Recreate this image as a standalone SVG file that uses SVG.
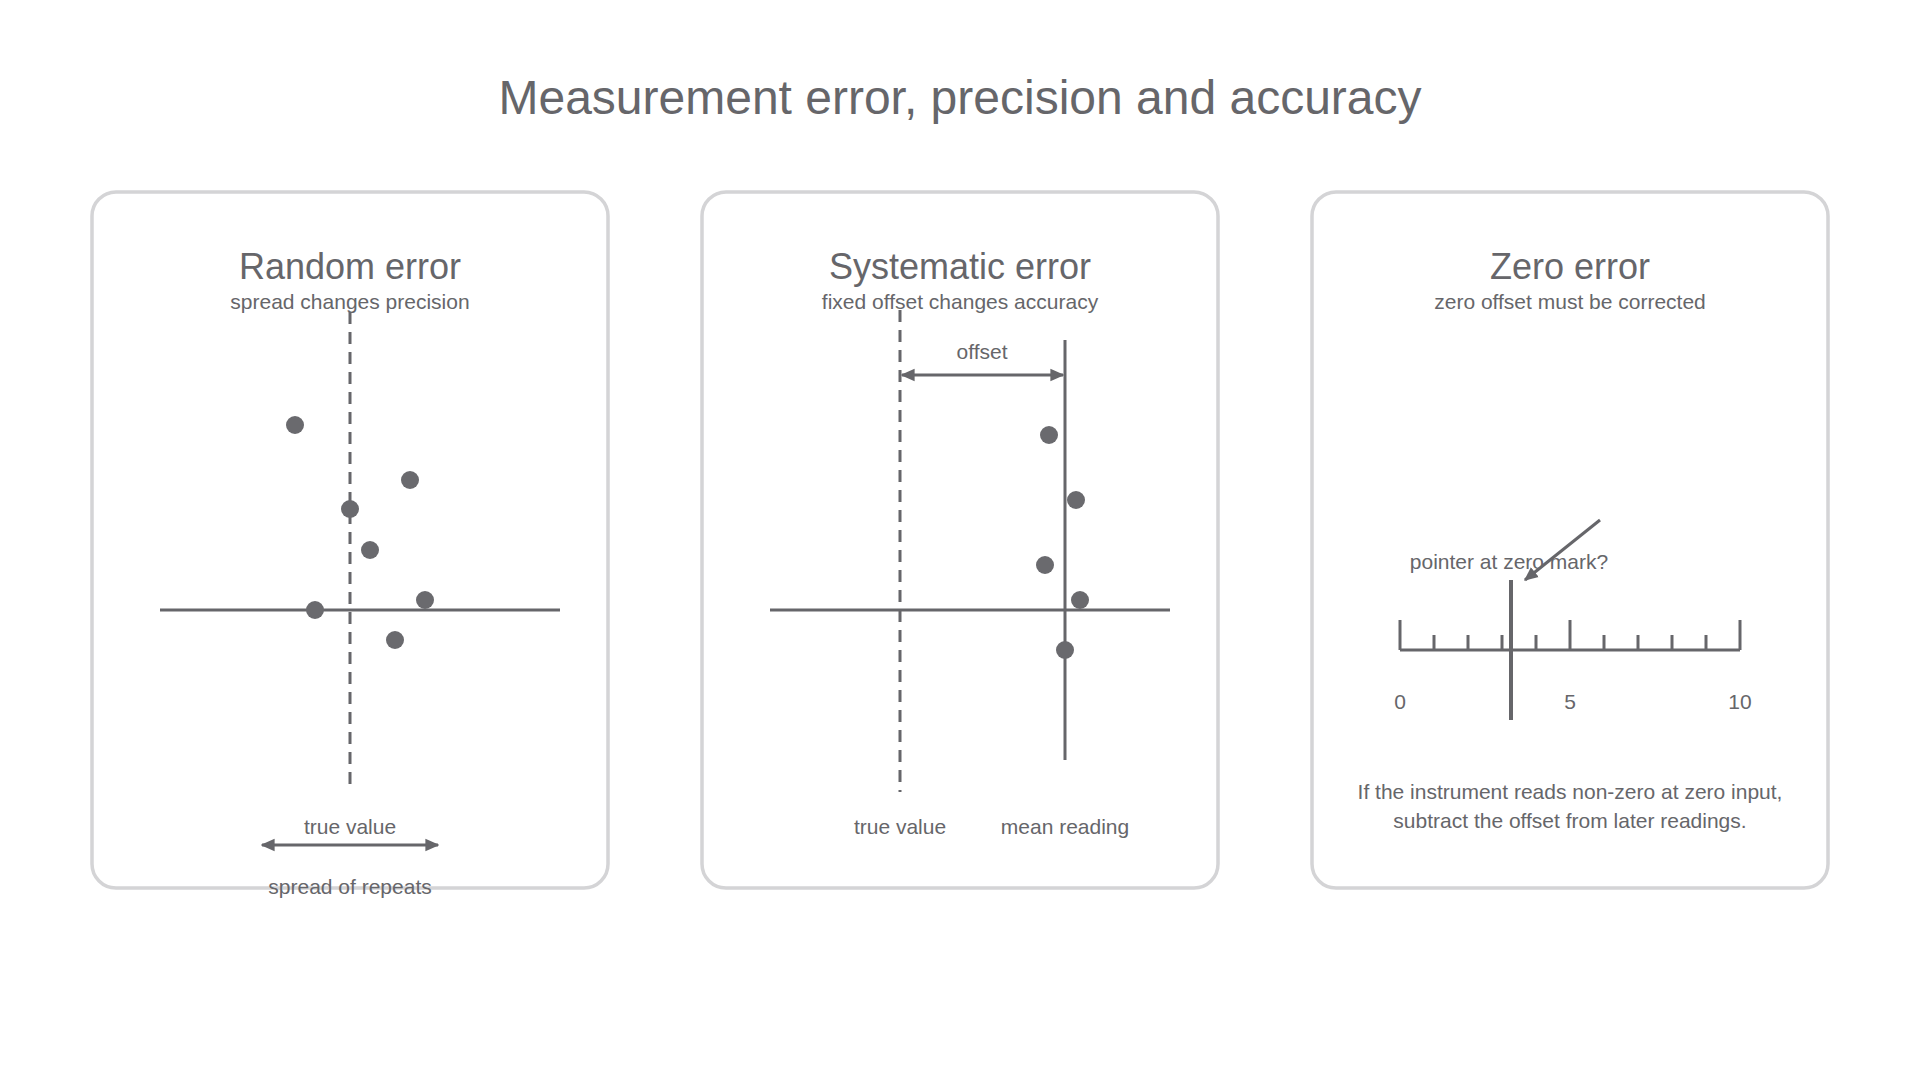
<svg xmlns="http://www.w3.org/2000/svg" width="1920" height="1080" viewBox="0 0 1920 1080">
<defs>
<style>
.bg{fill:#ffffff}
.panel{fill:#ffffff;stroke:#d4d4d6;stroke-width:3.5}
.t{font-family:"Liberation Sans",Arial,sans-serif;fill:#66666a;text-anchor:middle}
.title{font-size:48px}
.h{font-size:36px}
.s{font-size:21px}
.ln{stroke:#66666a;stroke-width:3;fill:none}
.dash{stroke:#66666a;stroke-width:3;stroke-dasharray:12 8;fill:none}
.ptr{stroke:#66666a;stroke-width:4;fill:none}
.dot{fill:#6a6a6e}
</style>
<marker id="ah" viewBox="0 0 10 10" refX="9" refY="5" markerWidth="14" markerHeight="14" markerUnits="userSpaceOnUse" orient="auto-start-reverse">
<path d="M0,0.5 L10,5 L0,9.5 z" fill="#66666a"/>
</marker>
</defs>
<rect class="bg" x="0" y="0" width="1920" height="1080"/>
<text class="t title" x="960" y="114">Measurement error, precision and accuracy</text>

<g id="panel-random">
<rect class="panel" x="92" y="192" width="516" height="696" rx="24"/>
<text class="t h" x="350" y="279">Random error</text>
<text class="t s" x="350" y="309">spread changes precision</text>
<line class="ln" x1="160" y1="610" x2="560" y2="610"/>
<line class="dash" x1="350" y1="312" x2="350" y2="792"/>
<circle class="dot" cx="295" cy="425" r="9"/>
<circle class="dot" cx="410" cy="480" r="9"/>
<circle class="dot" cx="350" cy="509" r="9"/>
<circle class="dot" cx="370" cy="550" r="9"/>
<circle class="dot" cx="315" cy="610" r="9"/>
<circle class="dot" cx="425" cy="600" r="9"/>
<circle class="dot" cx="395" cy="640" r="9"/>
<text class="t s" x="350" y="834">true value</text>
<text class="t s" x="350" y="894">spread of repeats</text>
</g>

<g id="panel-systematic">
<rect class="panel" x="702" y="192" width="516" height="696" rx="24"/>
<text class="t h" x="960" y="279">Systematic error</text>
<text class="t s" x="960" y="309">fixed offset changes accuracy</text>
<line class="ln" x1="770" y1="610" x2="1170" y2="610"/>
<line class="dash" x1="900" y1="310" x2="900" y2="792"/>
<line class="ln" x1="1065" y1="340" x2="1065" y2="760"/>
<text class="t s" x="982" y="359">offset</text>
<circle class="dot" cx="1049" cy="435" r="9"/>
<circle class="dot" cx="1076" cy="500" r="9"/>
<circle class="dot" cx="1045" cy="565" r="9"/>
<circle class="dot" cx="1080" cy="600" r="9"/>
<circle class="dot" cx="1065" cy="650" r="9"/>
<text class="t s" x="900" y="834">true value</text>
<text class="t s" x="1065" y="834">mean reading</text>
</g>

<g id="panel-zero">
<rect class="panel" x="1312" y="192" width="516" height="696" rx="24"/>
<text class="t h" x="1570" y="279">Zero error</text>
<text class="t s" x="1570" y="309">zero offset must be corrected</text>
<line class="ln" x1="1400" y1="650" x2="1740" y2="650"/>
<line class="ln" x1="1400" y1="620" x2="1400" y2="650"/>
<line class="ln" x1="1434" y1="635" x2="1434" y2="650"/>
<line class="ln" x1="1468" y1="635" x2="1468" y2="650"/>
<line class="ln" x1="1502" y1="635" x2="1502" y2="650"/>
<line class="ln" x1="1536" y1="635" x2="1536" y2="650"/>
<line class="ln" x1="1570" y1="620" x2="1570" y2="650"/>
<line class="ln" x1="1604" y1="635" x2="1604" y2="650"/>
<line class="ln" x1="1638" y1="635" x2="1638" y2="650"/>
<line class="ln" x1="1672" y1="635" x2="1672" y2="650"/>
<line class="ln" x1="1706" y1="635" x2="1706" y2="650"/>
<line class="ln" x1="1740" y1="620" x2="1740" y2="650"/>
<text class="t s" x="1400" y="709">0</text>
<text class="t s" x="1570" y="709">5</text>
<text class="t s" x="1740" y="709">10</text>
<line class="ptr" x1="1511" y1="580" x2="1511" y2="720"/>
<text class="t s" x="1509" y="569">pointer at zero mark?</text>
<text class="t s" x="1570" y="799">If the instrument reads non-zero at zero input,</text>
<text class="t s" x="1570" y="828">subtract the offset from later readings.</text>
</g>

<g id="connectors">
<line class="ln" x1="262" y1="845" x2="438" y2="845" marker-start="url(#ah)" marker-end="url(#ah)"/>
<line class="ln" x1="902" y1="375" x2="1063" y2="375" marker-start="url(#ah)" marker-end="url(#ah)"/>
<line class="ln" x1="1600" y1="520" x2="1525" y2="580" marker-end="url(#ah)"/>
</g>
</svg>
